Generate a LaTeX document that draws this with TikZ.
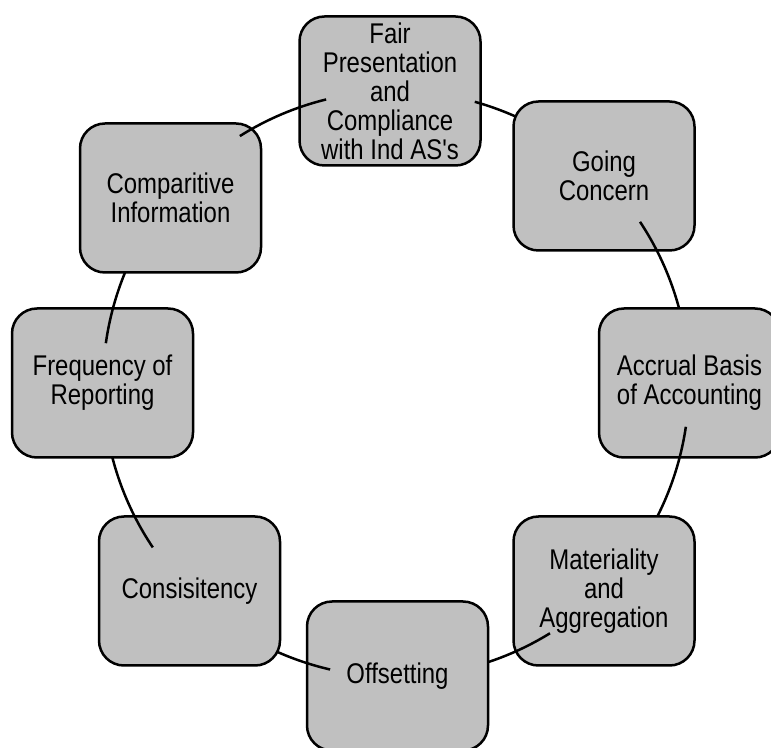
\documentclass[tikz,border=0pt]{standalone}
\usepackage{fontspec}
\setmainfont{Liberation Sans}[FakeStretch=0.84,Ligatures=TeXOff]
\begin{document}
\begin{tikzpicture}[x=1pt,y=1pt,
  stepbox/.style={draw=black, line width=2.5pt, fill=boxgray, rounded corners=25pt,
    minimum width=181pt, minimum height=149pt, inner sep=0pt, align=center,
    font=\fontsize{28.5pt}{29pt}\selectfont, text=black},
  cyc/.style={draw=black, line width=2.5pt}]
\definecolor{boxgray}{RGB}{192,192,192}
\useasboundingbox (0,0) rectangle (771,747);
\clip (0,0) rectangle (771,747);
\coordinate (c) at (396,363);
\def\R{293}
\node[stepbox] (n1) at (390,656) {Fair\\Presentation\\and\\Compliance\\with Ind AS's};
\draw[cyc] (c) ++(74.4:\R) arc[start angle=74.4, end angle=55, radius=\R];
\node[stepbox] (n2) at (604,571) {Going\\Concern};
\draw[cyc] (c) ++(33.6:\R) arc[start angle=33.6, end angle=5, radius=\R];
\node[stepbox] (n3) at (689.5,364) {Accrual Basis\\of Accounting};
\draw[cyc] (c) ++(-8.4:\R) arc[start angle=-8.4, end angle=-35, radius=\R];
\node[stepbox] (n4) at (604,156) {Materiality\\and\\Aggregation};
\draw[cyc] (c) ++(-58.3:\R) arc[start angle=-58.3, end angle=-85, radius=\R];
\node[stepbox] (n5) at (397.5,71) {Offsetting};
\draw[cyc] (c) ++(257:\R) arc[start angle=257, end angle=235, radius=\R];
\node[stepbox] (n6) at (189.5,156) {Consisitency};
\draw[cyc] (c) ++(213.9:\R) arc[start angle=213.9, end angle=185, radius=\R];
\node[stepbox] (n7) at (102.5,364) {Frequency of\\Reporting};
\draw[cyc] (c) ++(172:\R) arc[start angle=172, end angle=150, radius=\R];
\node[stepbox] (n8) at (170.5,549) {Comparitive\\Information};
\draw[cyc] (c) ++(122.2:\R) arc[start angle=122.2, end angle=103.8, radius=\R];
\end{tikzpicture}
\end{document}
